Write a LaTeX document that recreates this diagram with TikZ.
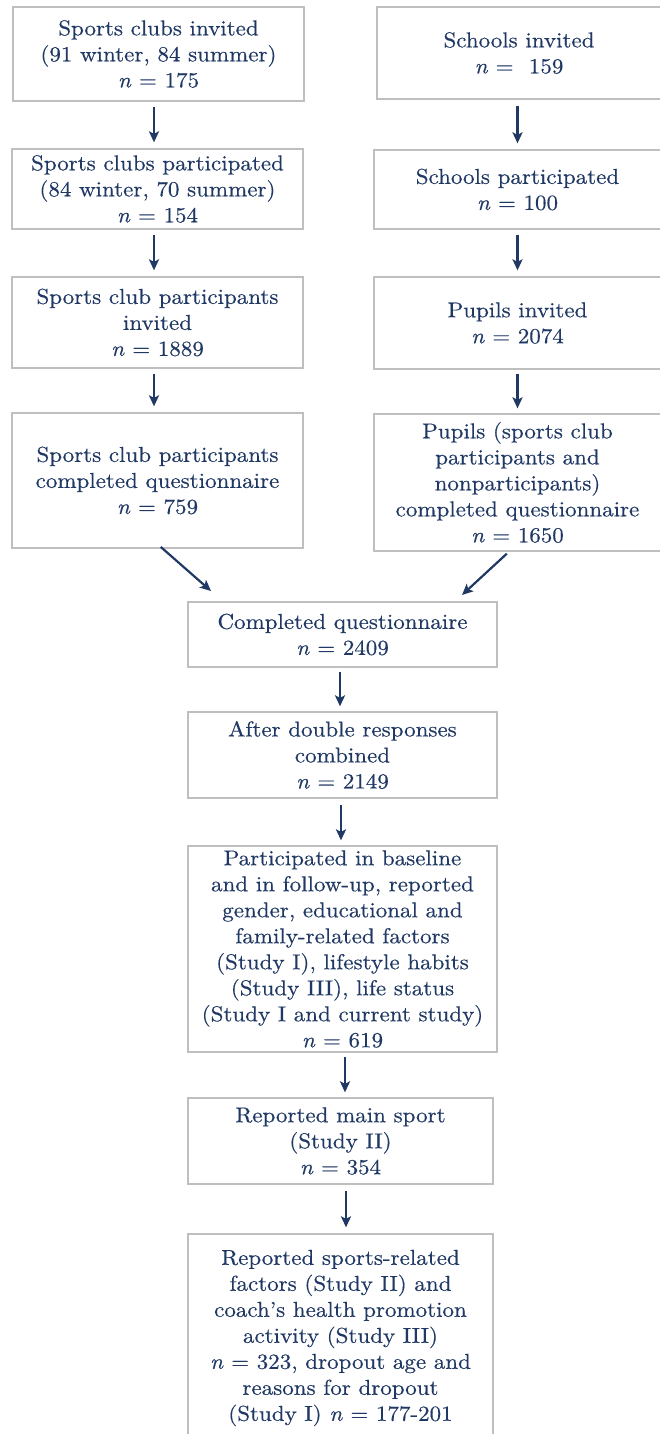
\documentclass[tikz,border=0pt]{standalone}
\usepackage{fontspec}
\setmainfont{lmroman10}[Extension=.otf, UprightFont=*-regular, ItalicFont=*-italic, FakeStretch=1.07, FakeBold=0.4]
\usetikzlibrary{arrows.meta}
\definecolor{navy}{HTML}{1F3864}
\definecolor{boxgray}{HTML}{BFBFBF}
\newcommand{\nn}{\textit{n}}
\begin{document}
\begin{tikzpicture}[x=1pt,y=-1pt,
  box/.style={draw=boxgray, line width=1.3pt, rectangle, align=center, text=navy, inner sep=0pt,
    font=\fontsize{21.5}{26}\selectfont},
  arr/.style={draw=navy, line width=2.2pt, -{Stealth[length=11pt,width=10pt,inset=2.5pt]}}]
\useasboundingbox[fill=white] (0,0) rectangle (659,1434);
% left column
\node[box, minimum width=291, minimum height=94] (b1) at (158.5,54) {Sports clubs invited\\(91 winter, 84 summer)\\\nn{} = 175};
\node[box, minimum width=291, minimum height=80] (b2) at (157.5,189) {Sports clubs participated\\(84 winter, 70 summer)\\\nn{} = 154};
\node[box, minimum width=291, minimum height=91] (b3) at (157.5,322.5) {Sports club participants\\invited\\\nn{} = 1889};
\node[box, minimum width=291, minimum height=135] (b4) at (157.5,480.5) {Sports club participants\\completed questionnaire\\\nn{} = 759};
% right column
\node[box, minimum width=284, minimum height=92] (r1) at (519,53) {Schools invited\\\nn{} = \ 159};
\node[box, minimum width=287, minimum height=79] (r2) at (517.5,189.5) {Schools participated\\\nn{} = 100};
\node[box, minimum width=287, minimum height=92] (r3) at (517.5,323) {Pupils invited\\\nn{} = 2074};
\node[box, minimum width=287, minimum height=137] (r4) at (517.5,482.5) {Pupils (sports club\\participants and\\nonparticipants)\\completed questionnaire\\\nn{} = 1650};
% centre column
\node[box, minimum width=309, minimum height=65] (c1) at (342.5,634.5) {Completed questionnaire\\\nn{} = 2409};
\node[box, minimum width=309, minimum height=86] (c2) at (342.5,755) {After double responses\\combined\\\nn{} = 2149};
\node[box, minimum width=309, minimum height=206] (c3) at (342.5,949) {Participated in baseline\\and in follow-up, reported\\gender, educational and\\family-related factors\\(Study I), lifestyle habits\\(Study III), life status\\(Study I and current study)\\\nn{} = 619};
\node[box, minimum width=305, minimum height=86] (c4) at (340.5,1141) {Reported main sport\\(Study II)\\\nn{} = 354};
\node[box, minimum width=305, minimum height=208] (c5) at (340.5,1338) {Reported sports-related\\factors (Study II) and\\coach's health promotion\\activity (Study III)\\\nn{} = 323, dropout age and\\reasons for dropout\\(Study I) \nn{} = 177-201};
% guide coordinates for arrow positions
\coordinate (lx) at (154,0);
\coordinate (rx) at (517.5,0);
\coordinate (c1x) at (340,0);
\coordinate (c2x) at (341,0);
\coordinate (c3x) at (345,0);
\coordinate (c4x) at (346,0);
\coordinate (dl) at (211,591);
\coordinate (dr) at (462,595);
% arrows
\path[arr, shorten <=5pt, shorten >=6pt] (b1.south -| lx) -- (b2.north -| lx);
\path[arr, shorten <=5pt, shorten >=6pt] (b2.south -| lx) -- (b3.north -| lx);
\path[arr, shorten <=5pt, shorten >=6pt] (b3.south -| lx) -- (b4.north -| lx);
\path[arr, shorten <=6pt, shorten >=6pt] (r1.south -| rx) -- (r2.north -| rx);
\path[arr, shorten <=5pt, shorten >=6pt] (r2.south -| rx) -- (r3.north -| rx);
\path[arr, shorten <=4pt, shorten >=5pt] (r3.south -| rx) -- (r4.north -| rx);
\path[arr, shorten <=5pt] ([xshift=-0.5pt,yshift=5pt]b4.south) -- (dl);
\path[arr, shorten <=3pt] ([xshift=-8.5pt]r4.south) -- (dr);
\path[arr, shorten <=4pt, shorten >=5pt] (c1.south -| c1x) -- (c2.north -| c1x);
\path[arr, shorten <=6pt, shorten >=5pt] (c2.south -| c2x) -- (c3.north -| c2x);
\path[arr, shorten <=4pt, shorten >=5pt] (c3.south -| c3x) -- (c4.north -| c3x);
\path[arr, shorten <=6pt, shorten >=6pt] (c4.south -| c4x) -- (c5.north -| c4x);
\end{tikzpicture}
\end{document}
